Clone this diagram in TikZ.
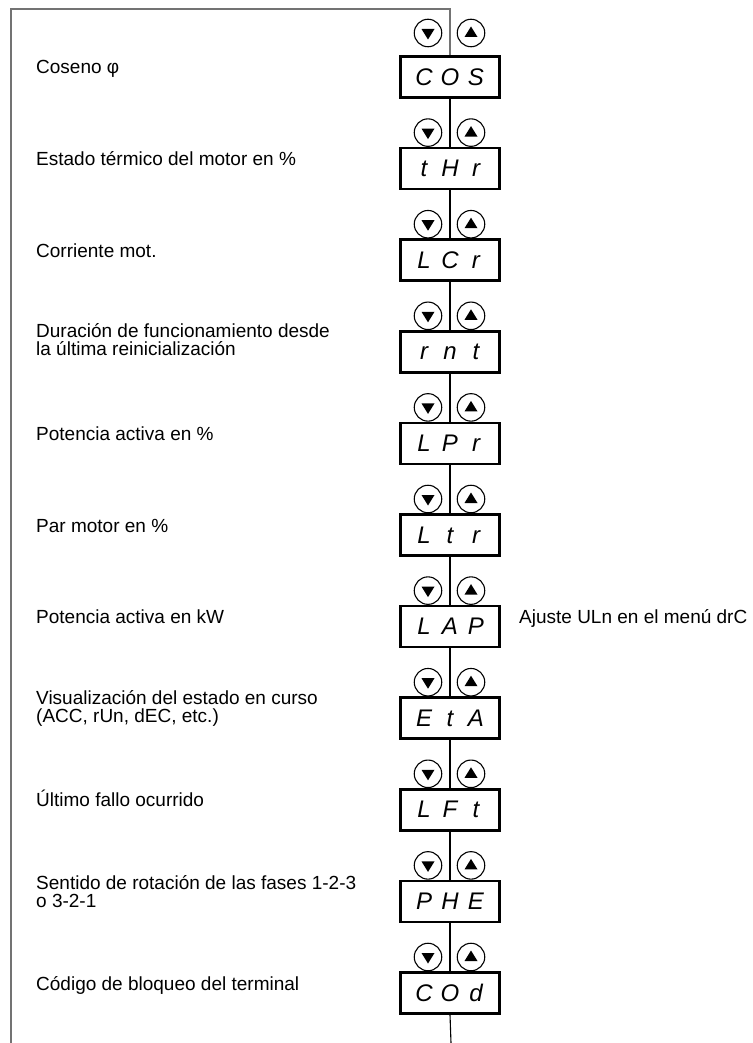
\documentclass[tikz,border=0pt]{standalone}
\usepackage{fontspec}
\setmainfont{Liberation Sans}
\newfontfamily\segfont{Liberation Sans}
\newcommand\sevseg[3]{\makebox[26pt]{#1}\makebox[26pt]{#2}\makebox[26pt]{#3}}
\begin{document}
\begin{tikzpicture}[x=1pt,y=-1pt,
  frame/.style={draw=black!55, line width=1.3pt},
  trunk/.style={draw=black, line width=1.1pt},
  display/.style={draw=black, line width=2.6pt, minimum width=99pt, minimum height=41pt,
    inner sep=0pt, fill=white, font=\segfont\itshape\fontsize{24}{24}\selectfont},
  key/.style={circle, draw=black, line width=1.1pt, minimum size=27.5pt, inner sep=0pt, fill=white},
  lab/.style={anchor=base west, inner sep=0pt, font=\fontsize{19}{18}\selectfont},
  labtwo/.style={anchor=west, align=left, inner sep=0pt, font=\fontsize{19}{18}\selectfont}]
\useasboundingbox (0,0) rectangle (752,1043);
% displays
\foreach \k/\a/\b/\c in {0/C/O/S,1/t/H/r,2/L/C/r,3/r/n/t,4/L/P/r,5/L/t/r,6/L/A/P,7/E/t/A,8/L/F/t,9/P/H/E,10/C/O/d}{
  \pgfmathsetmacro\yy{77+91.6*\k}
  \node[display] (b\k) at (450,\yy) {\sevseg{\a}{\b}{\c}};
  \pgfmathsetmacro\ky{\k==0 ? 33 : \yy-36}
  \node[key] (dn\k) at (428,\ky) {};
  \node[key] (up\k) at (471,\ky) {};
  \fill (dn\k.center) ++(-6.5,-4) -- ++(13,0) -- ++(-6.5,10.5) -- cycle;
  \fill (up\k.center) ++(-6.5,4) -- ++(13,0) -- ++(-6.5,-10.5) -- cycle;
}
% frame
\coordinate (tr) at (450,9);
\coordinate (tl) at (11,9);
\coordinate (bl) at (11,1043);
\coordinate (bot) at (451,1043);
\draw[frame] (b0.north) -- (tr) -- (tl) -- (bl);
% trunk
\foreach \k [evaluate=\k as \n using int(\k+1)] in {0,...,9}{
  \draw[trunk] (b\k.south) -- (b\n.north);
}
\draw[trunk] (b10.south) -- (bot);
% labels
\node[lab] (l0) at (36,74) {Coseno φ};
\node[lab] (l1) at (36,165.6) {Estado térmico del motor en \%};
\node[lab] (l2) at (36,257.2) {Corriente mot.};
\node[labtwo] (l3) at (36,339.8) {Duración de funcionamiento desde\\la última reinicialización};
\node[lab] (l4) at (36,440.4) {Potencia activa en \%};
\node[lab] (l5) at (36,532) {Par motor en \%};
\node[lab] (l6) at (36,623.6) {Potencia activa en kW};
\node[lab] (l6b) at (519,623.6) {Ajuste ULn en el menú drC};
\node[labtwo] (l7) at (36,708.2) {Visualización del estado en curso\\(ACC, rUn, dEC, etc.)};
\node[lab] (l8) at (36,806.8) {Último fallo ocurrido};
\node[labtwo] (l9) at (36,891.4) {Sentido de rotación de las fases 1-2-3\\o 3-2-1};
\node[lab] (l10) at (36,990) {Código de bloqueo del terminal};
\end{tikzpicture}
\end{document}
